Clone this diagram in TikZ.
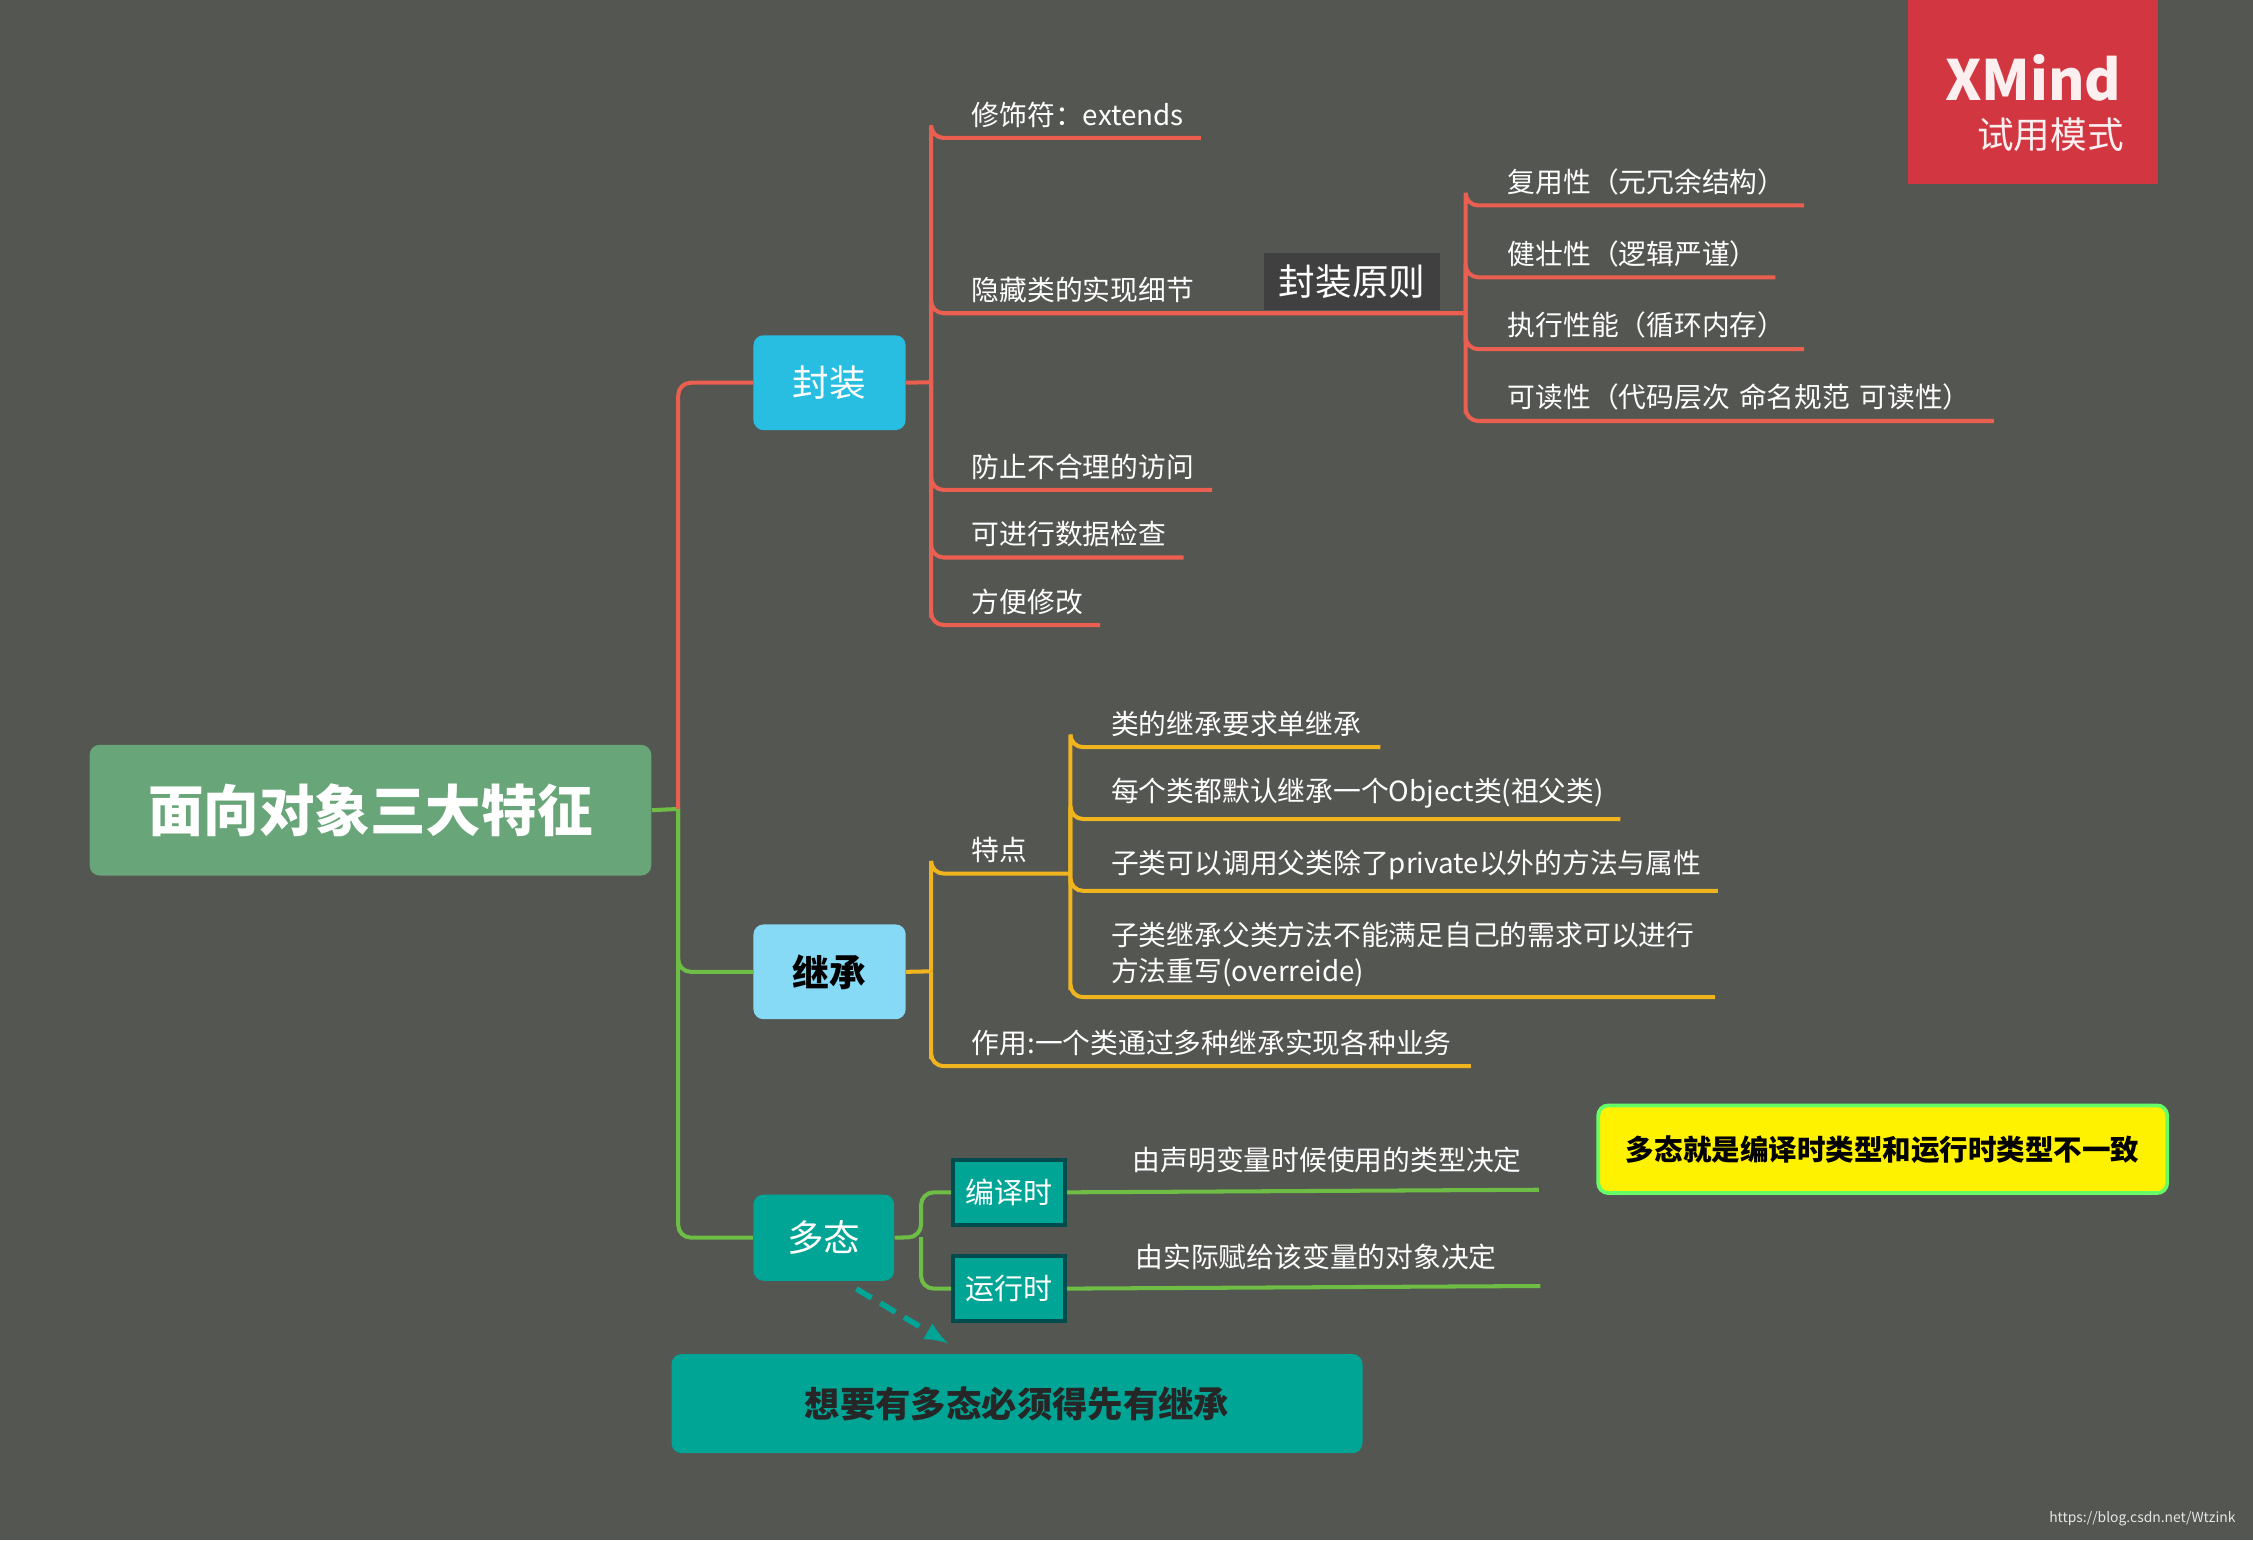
\documentclass[tikz,border=0pt]{standalone}
\usepackage{fontspec}
\setmainfont{Noto Sans CJK SC}
\usetikzlibrary{positioning}
\definecolor{bggray}{RGB}{84,86,82}
\definecolor{xred}{RGB}{210,55,65}
\definecolor{rootgreen}{RGB}{104,165,120}
\definecolor{fzcyan}{RGB}{40,190,225}
\definecolor{jclight}{RGB}{135,218,245}
\definecolor{dtteal}{RGB}{0,165,150}
\definecolor{redline}{RGB}{235,95,80}
\definecolor{orgline}{RGB}{240,180,30}
\definecolor{grnline}{RGB}{110,190,70}
\begin{document}
\begin{tikzpicture}
	[x=0.02cm, y=-0.02cm,
	box/.style ={rectangle, rounded corners=4pt, text=white, font=\fontsize{14.5}{16}\selectfont, anchor=north west, inner sep=0},
	leaf/.style ={anchor=south west, inner xsep=0, inner ysep=4pt, align=left, text=white, font=\fontsize{11}{14}\selectfont},
	red line/.style ={draw=redline, line width=1.6pt, rounded corners=5pt},
	org line/.style ={draw=orgline, line width=1.6pt, rounded corners=5pt},
	grn line/.style ={draw=grnline, line width=1.6pt, rounded corners=5pt}]
	\fill[bggray] (0,0) rectangle (1568,1072);
	\useasboundingbox (0,0) rectangle (1568,1072);
	% watermark
	\fill[xred] (1328,0) rectangle (1502,128);
	\node[text=white!92!xred, font=\bfseries\fontsize{22}{24}\selectfont] (xm) at (1415,54) {XMind};
	\node[text=white!92!xred, font=\fontsize{14.5}{16}\selectfont] (sy) at (1427,94) {试用模式};
	\node[text=white!85!bggray, font=\fontsize{5.5}{7}\selectfont, anchor=south east] (url) at (1562,1068) {https://blog.csdn.net/Wtzink};
	% main nodes
	\node[box, fill=rootgreen, minimum width=7.82cm, minimum height=1.82cm, font=\bfseries\fontsize{22}{24}\selectfont] (root) at (62,518) {面向对象三大特征};
	\node[box, fill=fzcyan, minimum width=2.12cm, minimum height=1.32cm] (fz) at (524,233) {封装};
	\node[box, fill=jclight, text=black, minimum width=2.12cm, minimum height=1.32cm, font=\bfseries\fontsize{14.5}{16}\selectfont] (jc) at (524,643) {继承};
	\node[box, fill=dtteal, minimum width=1.96cm, minimum height=1.2cm] (dt) at (524,831) {多态};
	\coordinate (rj) at (472,563);
	\draw[grn line] (root.east) -- (rj);
	\draw[red line] (rj) |- (fz.west);
	\draw[grn line] (rj) |- (jc.west);
	\draw[grn line] (rj) |- (dt.west);
	% encapsulation
	\node[leaf, text width=3.74cm] (f1) at (648,96) {\hspace*{0.56cm}修饰符：extends};
	\node[leaf, text width=7.4cm] (f2) at (648,218) {\hspace*{0.56cm}隐藏类的实现细节};
	\node[fill=black!75, text=white, inner sep=0, minimum width=2.44cm, minimum height=0.8cm, font=\fontsize{14.5}{16}\selectfont] (yz) at (941,196) {封装原则};
	\node[leaf, text width=3.9cm] (f3) at (648,341) {\hspace*{0.56cm}防止不合理的访问};
	\node[leaf, text width=3.5cm] (f4) at (648,388) {\hspace*{0.56cm}可进行数据检查};
	\node[leaf, text width=2.34cm] (f5) at (648,435) {\hspace*{0.56cm}方便修改};
	\coordinate (fj) at (648,266);
	\draw[red line] (fz.east) -- (fj);
	\foreach \n in {f1,f2,f3,f4,f5}
		\draw[red line] (fj) |- (\n.south west) -- (\n.south east);
	\node[leaf, text width=4.7cm] (y1) at (1020,143) {\hspace*{0.58cm}复用性（元冗余结构）};
	\node[leaf, text width=4.3cm] (y2) at (1020,193) {\hspace*{0.58cm}健壮性（逻辑严谨）};
	\node[leaf, text width=4.7cm] (y3) at (1020,243) {\hspace*{0.58cm}执行性能（循环内存）};
	\node[leaf, text width=7.34cm] (y4) at (1020,293) {\hspace*{0.58cm}可读性（代码层次 命名规范  可读性）};
	\coordinate (yj) at (1020,218);
	\foreach \n in {y1,y2,y3,y4}
		\draw[red line] (yj) |- (\n.south west) -- (\n.south east);
	% inheritance
	\node[leaf, text width=1.94cm] (td) at (648,608) {\hspace*{0.56cm}特点};
	\node[leaf, text width=7.5cm] (zy) at (648,742) {\hspace*{0.56cm}作用:一个类通过多种继承实现各种业务};
	\coordinate (jj) at (648,676);
	\draw[org line] (jc.east) -- (jj);
	\foreach \n in {td,zy}
		\draw[org line] (jj) |- (\n.south west) -- (\n.south east);
	\node[leaf, text width=4.3cm] (t1) at (745,520) {\hspace*{0.56cm}类的继承要求单继承};
	\node[leaf, text width=7.64cm] (t2) at (745,570) {\hspace*{0.56cm}每个类都默认继承一个Object类(祖父类)};
	\node[leaf, text width=9cm] (t3) at (745,620) {\hspace*{0.56cm}子类可以调用父类除了private以外的方法与属性};
	\node[leaf, text width=8.96cm] (t4) at (745,694) {\hspace*{0.56cm}子类继承父类方法不能满足自己的需求可以进行\\\hspace*{0.56cm}方法重写(overreide)};
	\coordinate (tj) at (745,608);
	\foreach \n in {t1,t2,t3,t4}
		\draw[org line] (tj) |- (\n.south west) -- (\n.south east);
	% polymorphism
	\node[box, fill=dtteal, draw=teal!60!black, line width=1.5pt, rounded corners=0, minimum width=1.56cm, minimum height=0.9cm, font=\fontsize{11.5}{13}\selectfont] (by) at (662,806) {编译时};
	\node[box, fill=dtteal, draw=teal!60!black, line width=1.5pt, rounded corners=0, minimum width=1.56cm, minimum height=0.9cm, font=\fontsize{11.5}{13}\selectfont] (yx) at (662,873) {运行时};
	\coordinate (dj) at (641,861);
	\coordinate (be) at (1071,828);
	\coordinate (ye) at (1072,895);
	\draw[grn line] (dt.east) -- (dj) |- (by.west);
	\draw[grn line] (dj) |- (yx.west);
	\draw[grn line] (by.east) -- (be);
	\draw[grn line] (yx.east) -- (ye);
	\node[leaf] (bt) at (788,824) {由声明变量时候使用的类型决定};
	\node[leaf] (yt) at (790,891) {由实际赋给该变量的对象决定};
	\node[box, fill=yellow, draw=green!60!white, line width=1.5pt, text=black, minimum width=7.92cm, minimum height=1.22cm, font=\bfseries\fontsize{11.3}{13}\selectfont] (dn) at (1111,768) {多态就是编译时类型和运行时类型不一致};
	\node[box, fill=dtteal, text=black!85, minimum width=9.62cm, minimum height=1.38cm, font=\bfseries\fontsize{14}{16}\selectfont] (xy) at (467,942) {想要有多态必须得先有继承};
	\coordinate (as) at (596,897);
	\coordinate (ae) at (660,935);
	\draw[dtteal, line width=2.2pt, dash pattern=on 7pt off 4pt, -latex] (as) -- (ae);
\end{tikzpicture}
\end{document}
